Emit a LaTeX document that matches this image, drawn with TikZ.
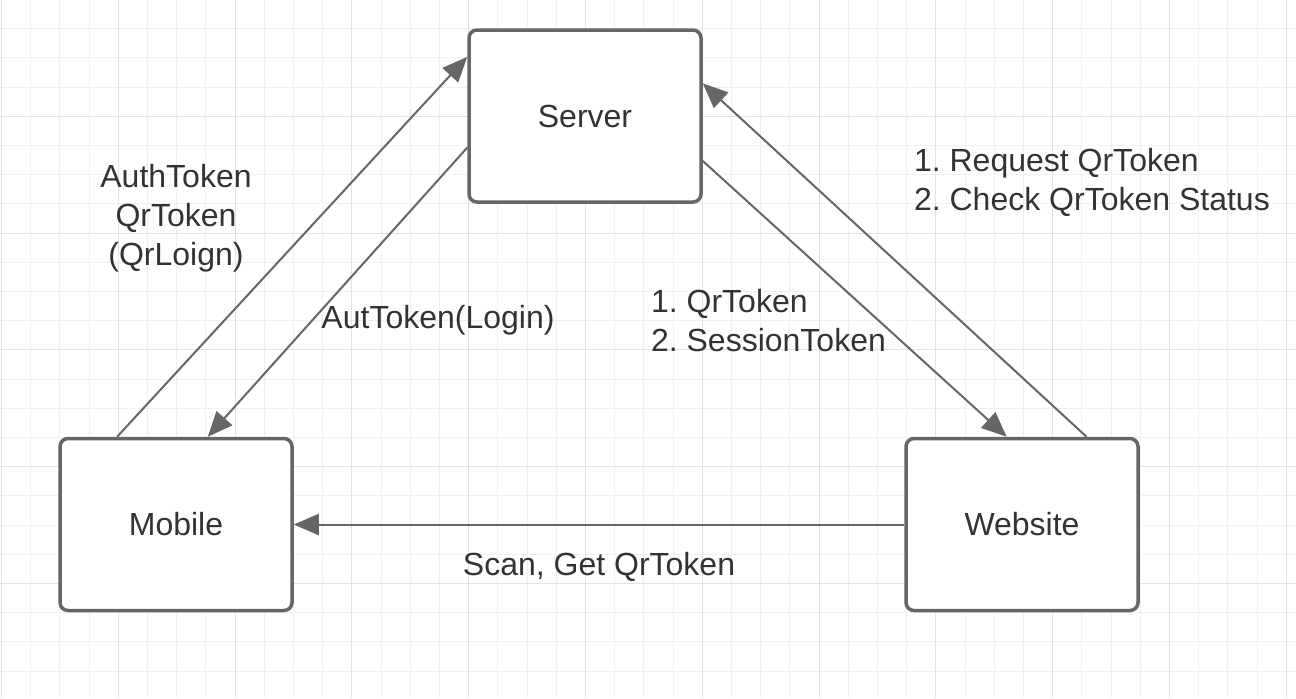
\documentclass[tikz,border=0pt]{standalone}
\usepackage{fontspec}
\setmainfont{Liberation Sans}
\usepackage{xcolor}
\usetikzlibrary{arrows.meta,positioning,calc}

\definecolor{linegray}{HTML}{666666}
\definecolor{textgray}{HTML}{333333}
\definecolor{gridminor}{HTML}{F0F0F0}
\definecolor{gridmajor}{HTML}{E2E2E2}

\tikzset{
  block/.style={draw=linegray, line width=1.75pt, rounded corners=4pt, fill=white,
    minimum width=116pt, minimum height=86pt, text=textgray},
  flow/.style={->, draw=linegray, line width=1pt},
  lbl/.style={text=textgray, align=center},
}

\begin{document}
\frenchspacing
\begin{tikzpicture}[x=0.5pt, y=-0.5pt, >={Triangle[length=12.5pt,width=10.5pt]},
  font=\fontsize{16}{19.5}\selectfont]
  \useasboundingbox (0,0) rectangle (1296,698);
  \fill[white] (0,0) rectangle (1296,698);

  % background grid
  \foreach \i in {0,...,44} {
    \pgfmathsetmacro{\gx}{1.5+29.2*\i}
    \draw[gridminor, line width=0.5pt] (\gx,0) -- (\gx,698);
  }
  \foreach \i in {1,...,23} {
    \pgfmathsetmacro{\gy}{-0.5+29.2*\i}
    \draw[gridminor, line width=0.5pt] (0,\gy) -- (1296,\gy);
  }
  \foreach \i in {0,...,11} {
    \pgfmathsetmacro{\gx}{1.5+116.8*\i}
    \draw[gridmajor, line width=0.5pt] (\gx,0) -- (\gx,698);
  }
  \foreach \i in {1,...,5} {
    \pgfmathsetmacro{\gy}{-0.5+116.8*\i}
    \draw[gridmajor, line width=0.5pt] (0,\gy) -- (1296,\gy);
  }

  % the three parties
  \node[block] (server) at (585,116) {Server};
  \node[block] (mobile) at (176,524.5) {Mobile};
  \node[block] (website) at (1022,524.5) {Website};

  % messages
  \draw[flow] ($(mobile.north west)!0.25!(mobile.north east)$) -- ($(server.north west)!0.163!(server.south west)$);
  \draw[flow] ($(server.north west)!0.68!(server.south west)$) -- ($(mobile.north west)!0.635!(mobile.north east)$);
  \draw[flow] ($(server.north east)!0.756!(server.south east)$) -- ($(website.north west)!0.435!(website.north east)$);
  \draw[flow] ($(website.north west)!0.774!(website.north east)$) -- ($(server.north east)!0.314!(server.south east)$);
  \draw[flow] (website.west) -- (mobile.east);

  % labels
  \node[lbl] (authlbl) at (176,218) {AuthToken\\QrToken\\(QrLoign)};
  \node[lbl] (loginlbl) at (438,320) {AutToken(Login)};
  \node[lbl, anchor=west, align=left] (qrlbl) at (644,320.5) {1. QrToken\\2. SessionToken};
  \node[lbl, anchor=west, align=left] (reqlbl) at (907,182) {1. Request QrToken\\2. Check QrToken Status};
  \node[lbl] (scanlbl) at (599,567) {Scan, Get QrToken};
\end{tikzpicture}
\end{document}
